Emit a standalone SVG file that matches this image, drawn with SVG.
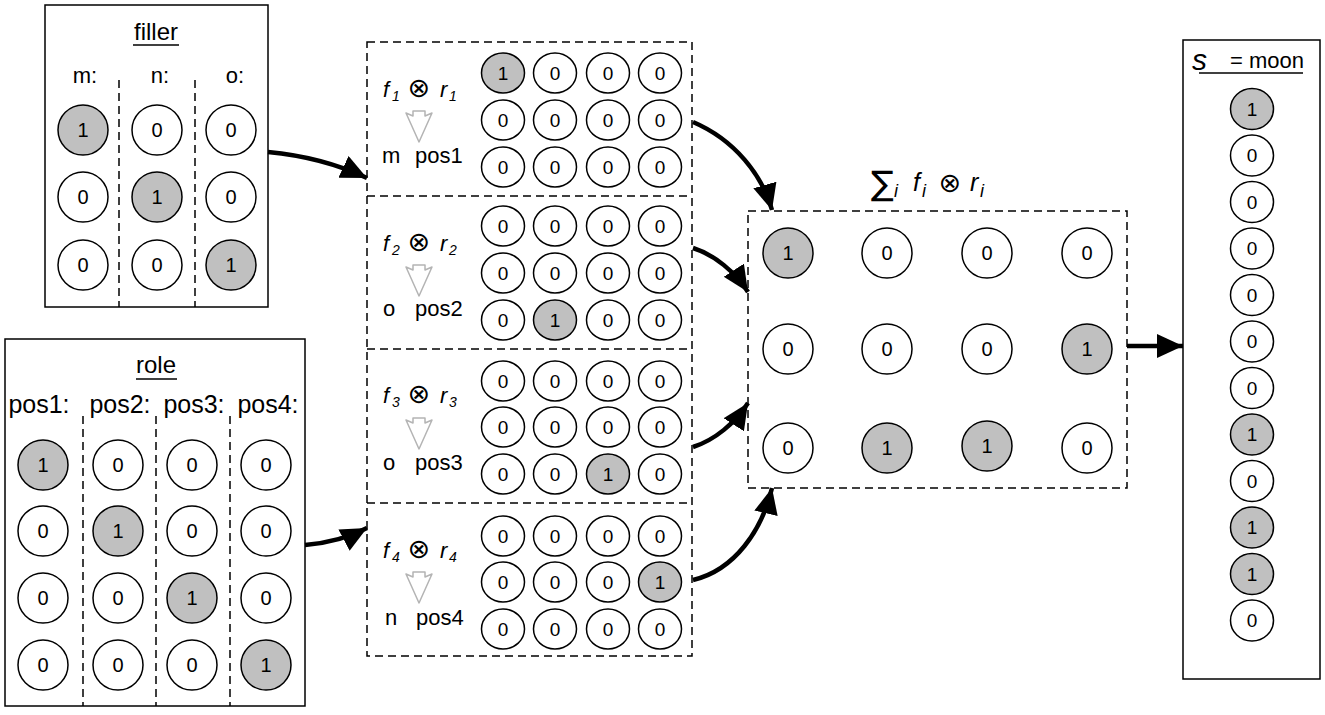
<svg xmlns="http://www.w3.org/2000/svg" width="1325" height="715" viewBox="0 0 1325 715">
<style>
text{font-family:"Liberation Sans",Arial,sans-serif;fill:#000}
.box{fill:#fff;stroke:#000;stroke-width:1.5}
.dbox{fill:#fff;stroke:#000;stroke-width:1.5;stroke-dasharray:8 5}
.dl{fill:none;stroke:#000;stroke-width:1.5;stroke-dasharray:8 5}
.c0{fill:#fff;stroke:#000;stroke-width:1.5}
.c1{fill:#c0c0c0;stroke:#000;stroke-width:1.5}
.n{font-size:20px;text-anchor:middle;dominant-baseline:central}
.ns{font-size:19px;text-anchor:middle;dominant-baseline:central}
.ttl{font-size:24px;text-anchor:middle}
.lab{font-size:22px;text-anchor:middle}
.plab{font-size:25px;text-anchor:middle}
.ul{stroke:#000;stroke-width:1.5}
.it{font-style:italic}
.fr{font-size:22px}
.ot{font-family:"DejaVu Sans",sans-serif;font-size:27px;text-anchor:middle}
.sig{font-family:"DejaVu Sans",sans-serif;font-size:34px}
.sub{font-size:14px;font-style:italic}
.ga{fill:#fff;stroke:#b4b4b4;stroke-width:1.5;stroke-linejoin:round}
.conn{fill:none;stroke:#000;stroke-width:4.5}
</style>
<defs>
<marker id="ah" markerUnits="userSpaceOnUse" markerWidth="30" markerHeight="26" refX="26" refY="12" orient="auto">
<path d="M0,0 L26,12 L0,24 Z" fill="#000"/>
</marker>
</defs>

<g id="filler">
<rect class="box" x="45" y="5" width="223" height="302"/>
<text class="ttl" x="156" y="40">filler</text>
<line class="ul" x1="133" y1="45" x2="179" y2="45"/>
<text class="lab" x="85" y="83">m:</text>
<text class="lab" x="160" y="83">n:</text>
<text class="lab" x="235" y="83">o:</text>
<line class="dl" x1="119" y1="80" x2="119" y2="307"/>
<line class="dl" x1="195" y1="80" x2="195" y2="307"/>
<circle class="c1" cx="83" cy="130" r="25"/><text class="n" x="83" y="130">1</text>
<circle class="c0" cx="157" cy="130" r="25"/><text class="n" x="157" y="130">0</text>
<circle class="c0" cx="231" cy="130" r="25"/><text class="n" x="231" y="130">0</text>
<circle class="c0" cx="83" cy="197" r="25"/><text class="n" x="83" y="197">0</text>
<circle class="c1" cx="157" cy="197" r="25"/><text class="n" x="157" y="197">1</text>
<circle class="c0" cx="231" cy="197" r="25"/><text class="n" x="231" y="197">0</text>
<circle class="c0" cx="83" cy="265" r="25"/><text class="n" x="83" y="265">0</text>
<circle class="c0" cx="157" cy="265" r="25"/><text class="n" x="157" y="265">0</text>
<circle class="c1" cx="231" cy="265" r="25"/><text class="n" x="231" y="265">1</text>
</g>

<g id="role">
<rect class="box" x="5" y="339" width="300" height="367"/>
<text class="ttl" x="156" y="373">role</text>
<line class="ul" x1="136" y1="379" x2="177" y2="379"/>
<text class="plab" x="39" y="413">pos1:</text>
<text class="plab" x="120" y="413">pos2:</text>
<text class="plab" x="194" y="413">pos3:</text>
<text class="plab" x="268" y="413">pos4:</text>
<line class="dl" x1="83" y1="416" x2="83" y2="706"/>
<line class="dl" x1="156" y1="416" x2="156" y2="706"/>
<line class="dl" x1="230" y1="416" x2="230" y2="706"/>
<circle class="c1" cx="43" cy="465" r="25"/><text class="n" x="43" y="465">1</text>
<circle class="c0" cx="118" cy="465" r="25"/><text class="n" x="118" y="465">0</text>
<circle class="c0" cx="192" cy="465" r="25"/><text class="n" x="192" y="465">0</text>
<circle class="c0" cx="266" cy="465" r="25"/><text class="n" x="266" y="465">0</text>
<circle class="c0" cx="43" cy="531" r="25"/><text class="n" x="43" y="531">0</text>
<circle class="c1" cx="118" cy="531" r="25"/><text class="n" x="118" y="531">1</text>
<circle class="c0" cx="192" cy="531" r="25"/><text class="n" x="192" y="531">0</text>
<circle class="c0" cx="266" cy="531" r="25"/><text class="n" x="266" y="531">0</text>
<circle class="c0" cx="43" cy="598" r="25"/><text class="n" x="43" y="598">0</text>
<circle class="c0" cx="118" cy="598" r="25"/><text class="n" x="118" y="598">0</text>
<circle class="c1" cx="192" cy="598" r="25"/><text class="n" x="192" y="598">1</text>
<circle class="c0" cx="266" cy="598" r="25"/><text class="n" x="266" y="598">0</text>
<circle class="c0" cx="43" cy="665" r="25"/><text class="n" x="43" y="665">0</text>
<circle class="c0" cx="118" cy="665" r="25"/><text class="n" x="118" y="665">0</text>
<circle class="c0" cx="192" cy="665" r="25"/><text class="n" x="192" y="665">0</text>
<circle class="c1" cx="266" cy="665" r="25"/><text class="n" x="266" y="665">1</text>
</g>

<g id="bindings">
<rect class="dbox" x="367" y="42" width="325" height="614"/>
<line class="dl" x1="367" y1="196" x2="692" y2="196"/>
<line class="dl" x1="367" y1="349" x2="692" y2="349"/>
<line class="dl" x1="367" y1="503" x2="692" y2="503"/>

<g id="binding1">
<text class="fr it" x="383" y="97">f</text><text class="sub" x="392" y="101">1</text>
<text class="ot" x="419" y="97">⊗</text>
<text class="fr it" x="440" y="97">r</text><text class="sub" x="449" y="101">1</text>
<polygon class="ga" points="413,111 425,111 425,116 432,113 419,142 406,113 413,116"/>
<text class="fr" x="382" y="163">m</text><text class="fr" x="415" y="163">pos1</text>
<ellipse class="c1" cx="503" cy="73" rx="21.5" ry="20"/><text class="ns" x="503" y="73">1</text>
<ellipse class="c0" cx="555" cy="73" rx="21.5" ry="20"/><text class="ns" x="555" y="73">0</text>
<ellipse class="c0" cx="608" cy="73" rx="21.5" ry="20"/><text class="ns" x="608" y="73">0</text>
<ellipse class="c0" cx="660" cy="73" rx="21.5" ry="20"/><text class="ns" x="660" y="73">0</text>
<ellipse class="c0" cx="503" cy="120" rx="21.5" ry="20"/><text class="ns" x="503" y="120">0</text>
<ellipse class="c0" cx="555" cy="120" rx="21.5" ry="20"/><text class="ns" x="555" y="120">0</text>
<ellipse class="c0" cx="608" cy="120" rx="21.5" ry="20"/><text class="ns" x="608" y="120">0</text>
<ellipse class="c0" cx="660" cy="120" rx="21.5" ry="20"/><text class="ns" x="660" y="120">0</text>
<ellipse class="c0" cx="503" cy="167" rx="21.5" ry="20"/><text class="ns" x="503" y="167">0</text>
<ellipse class="c0" cx="555" cy="167" rx="21.5" ry="20"/><text class="ns" x="555" y="167">0</text>
<ellipse class="c0" cx="608" cy="167" rx="21.5" ry="20"/><text class="ns" x="608" y="167">0</text>
<ellipse class="c0" cx="660" cy="167" rx="21.5" ry="20"/><text class="ns" x="660" y="167">0</text>
</g>

<g id="binding2">
<text class="fr it" x="383" y="251">f</text><text class="sub" x="392" y="255">2</text>
<text class="ot" x="419" y="251">⊗</text>
<text class="fr it" x="440" y="251">r</text><text class="sub" x="449" y="255">2</text>
<polygon class="ga" points="413,265 425,265 425,270 432,267 419,296 406,267 413,270"/>
<text class="fr" x="383" y="316">o</text><text class="fr" x="415" y="316">pos2</text>
<ellipse class="c0" cx="503" cy="226" rx="21.5" ry="20"/><text class="ns" x="503" y="226">0</text>
<ellipse class="c0" cx="555" cy="226" rx="21.5" ry="20"/><text class="ns" x="555" y="226">0</text>
<ellipse class="c0" cx="608" cy="226" rx="21.5" ry="20"/><text class="ns" x="608" y="226">0</text>
<ellipse class="c0" cx="660" cy="226" rx="21.5" ry="20"/><text class="ns" x="660" y="226">0</text>
<ellipse class="c0" cx="503" cy="273" rx="21.5" ry="20"/><text class="ns" x="503" y="273">0</text>
<ellipse class="c0" cx="555" cy="273" rx="21.5" ry="20"/><text class="ns" x="555" y="273">0</text>
<ellipse class="c0" cx="608" cy="273" rx="21.5" ry="20"/><text class="ns" x="608" y="273">0</text>
<ellipse class="c0" cx="660" cy="273" rx="21.5" ry="20"/><text class="ns" x="660" y="273">0</text>
<ellipse class="c0" cx="503" cy="320" rx="21.5" ry="20"/><text class="ns" x="503" y="320">0</text>
<ellipse class="c1" cx="555" cy="320" rx="21.5" ry="20"/><text class="ns" x="555" y="320">1</text>
<ellipse class="c0" cx="608" cy="320" rx="21.5" ry="20"/><text class="ns" x="608" y="320">0</text>
<ellipse class="c0" cx="660" cy="320" rx="21.5" ry="20"/><text class="ns" x="660" y="320">0</text>
</g>

<g id="binding3">
<text class="fr it" x="383" y="403">f</text><text class="sub" x="392" y="407">3</text>
<text class="ot" x="419" y="403">⊗</text>
<text class="fr it" x="440" y="403">r</text><text class="sub" x="449" y="407">3</text>
<polygon class="ga" points="413,418 425,418 425,423 432,420 419,449 406,420 413,423"/>
<text class="fr" x="383" y="470">o</text><text class="fr" x="415" y="470">pos3</text>
<ellipse class="c0" cx="503" cy="381" rx="21.5" ry="20"/><text class="ns" x="503" y="381">0</text>
<ellipse class="c0" cx="555" cy="381" rx="21.5" ry="20"/><text class="ns" x="555" y="381">0</text>
<ellipse class="c0" cx="608" cy="381" rx="21.5" ry="20"/><text class="ns" x="608" y="381">0</text>
<ellipse class="c0" cx="660" cy="381" rx="21.5" ry="20"/><text class="ns" x="660" y="381">0</text>
<ellipse class="c0" cx="503" cy="427" rx="21.5" ry="20"/><text class="ns" x="503" y="427">0</text>
<ellipse class="c0" cx="555" cy="427" rx="21.5" ry="20"/><text class="ns" x="555" y="427">0</text>
<ellipse class="c0" cx="608" cy="427" rx="21.5" ry="20"/><text class="ns" x="608" y="427">0</text>
<ellipse class="c0" cx="660" cy="427" rx="21.5" ry="20"/><text class="ns" x="660" y="427">0</text>
<ellipse class="c0" cx="503" cy="474" rx="21.5" ry="20"/><text class="ns" x="503" y="474">0</text>
<ellipse class="c0" cx="555" cy="474" rx="21.5" ry="20"/><text class="ns" x="555" y="474">0</text>
<ellipse class="c1" cx="608" cy="474" rx="21.5" ry="20"/><text class="ns" x="608" y="474">1</text>
<ellipse class="c0" cx="660" cy="474" rx="21.5" ry="20"/><text class="ns" x="660" y="474">0</text>
</g>

<g id="binding4">
<text class="fr it" x="383" y="558">f</text><text class="sub" x="392" y="562">4</text>
<text class="ot" x="419" y="558">⊗</text>
<text class="fr it" x="440" y="558">r</text><text class="sub" x="449" y="562">4</text>
<polygon class="ga" points="413,572 425,572 425,577 432,574 419,603 406,574 413,577"/>
<text class="fr" x="385" y="625">n</text><text class="fr" x="416" y="625">pos4</text>
<ellipse class="c0" cx="503" cy="536" rx="21.5" ry="20"/><text class="ns" x="503" y="536">0</text>
<ellipse class="c0" cx="555" cy="536" rx="21.5" ry="20"/><text class="ns" x="555" y="536">0</text>
<ellipse class="c0" cx="608" cy="536" rx="21.5" ry="20"/><text class="ns" x="608" y="536">0</text>
<ellipse class="c0" cx="660" cy="536" rx="21.5" ry="20"/><text class="ns" x="660" y="536">0</text>
<ellipse class="c0" cx="503" cy="582" rx="21.5" ry="20"/><text class="ns" x="503" y="582">0</text>
<ellipse class="c0" cx="555" cy="582" rx="21.5" ry="20"/><text class="ns" x="555" y="582">0</text>
<ellipse class="c0" cx="608" cy="582" rx="21.5" ry="20"/><text class="ns" x="608" y="582">0</text>
<ellipse class="c1" cx="660" cy="582" rx="21.5" ry="20"/><text class="ns" x="660" y="582">1</text>
<ellipse class="c0" cx="503" cy="629" rx="21.5" ry="20"/><text class="ns" x="503" y="629">0</text>
<ellipse class="c0" cx="555" cy="629" rx="21.5" ry="20"/><text class="ns" x="555" y="629">0</text>
<ellipse class="c0" cx="608" cy="629" rx="21.5" ry="20"/><text class="ns" x="608" y="629">0</text>
<ellipse class="c0" cx="660" cy="629" rx="21.5" ry="20"/><text class="ns" x="660" y="629">0</text>
</g>
</g>

<g id="sum">
<text class="sig" x="871" y="195">∑</text>
<text class="it" x="894" y="197" font-size="18">i</text>
<text class="it" x="913" y="191" font-size="25">f</text>
<text class="it" x="922" y="197" font-size="18">i</text>
<text class="ot" x="950" y="192">⊗</text>
<text class="it" x="970" y="191" font-size="25">r</text>
<text class="it" x="980" y="197" font-size="18">i</text>
<rect class="dbox" x="748" y="211" width="379" height="277"/>
<circle class="c1" cx="788" cy="253" r="25"/><text class="n" x="788" y="253">1</text>
<circle class="c0" cx="887" cy="253" r="25"/><text class="n" x="887" y="253">0</text>
<circle class="c0" cx="987" cy="253" r="25"/><text class="n" x="987" y="253">0</text>
<circle class="c0" cx="1087" cy="253" r="25"/><text class="n" x="1087" y="253">0</text>
<circle class="c0" cx="788" cy="349" r="25"/><text class="n" x="788" y="349">0</text>
<circle class="c0" cx="887" cy="349" r="25"/><text class="n" x="887" y="349">0</text>
<circle class="c0" cx="987" cy="349" r="25"/><text class="n" x="987" y="349">0</text>
<circle class="c1" cx="1087" cy="349" r="25"/><text class="n" x="1087" y="349">1</text>
<circle class="c0" cx="788" cy="448" r="25"/><text class="n" x="788" y="448">0</text>
<circle class="c1" cx="887" cy="448" r="25"/><text class="n" x="887" y="448">1</text>
<circle class="c1" cx="987" cy="446" r="25"/><text class="n" x="987" y="446">1</text>
<circle class="c0" cx="1087" cy="448" r="25"/><text class="n" x="1087" y="448">0</text>
</g>

<g id="sentence">
<rect class="box" x="1183" y="40" width="137" height="639"/>
<text class="it" x="1192" y="70" font-size="30">s</text>
<text x="1230" y="68" font-size="22">= moon</text>
<line class="ul" x1="1199" y1="73" x2="1303" y2="73"/>
<ellipse class="c1" cx="1252" cy="109" rx="21.5" ry="20.5"/><text class="ns" x="1252" y="109">1</text>
<ellipse class="c0" cx="1252" cy="155.5" rx="21.5" ry="20.5"/><text class="ns" x="1252" y="155.5">0</text>
<ellipse class="c0" cx="1252" cy="202" rx="21.5" ry="20.5"/><text class="ns" x="1252" y="202">0</text>
<ellipse class="c0" cx="1252" cy="248.5" rx="21.5" ry="20.5"/><text class="ns" x="1252" y="248.5">0</text>
<ellipse class="c0" cx="1252" cy="295" rx="21.5" ry="20.5"/><text class="ns" x="1252" y="295">0</text>
<ellipse class="c0" cx="1252" cy="341.5" rx="21.5" ry="20.5"/><text class="ns" x="1252" y="341.5">0</text>
<ellipse class="c0" cx="1252" cy="388" rx="21.5" ry="20.5"/><text class="ns" x="1252" y="388">0</text>
<ellipse class="c1" cx="1252" cy="434.5" rx="21.5" ry="20.5"/><text class="ns" x="1252" y="434.5">1</text>
<ellipse class="c0" cx="1252" cy="481" rx="21.5" ry="20.5"/><text class="ns" x="1252" y="481">0</text>
<ellipse class="c1" cx="1252" cy="527.5" rx="21.5" ry="20.5"/><text class="ns" x="1252" y="527.5">1</text>
<ellipse class="c1" cx="1252" cy="574" rx="21.5" ry="20.5"/><text class="ns" x="1252" y="574">1</text>
<ellipse class="c0" cx="1252" cy="620.5" rx="21.5" ry="20.5"/><text class="ns" x="1252" y="620.5">0</text>
</g>

<g id="connectors">
<path class="conn" marker-end="url(#ah)" d="M268,152 C300,155 335,163 367,178"/>
<path class="conn" marker-end="url(#ah)" d="M305,545 C328,543 350,537 367,528"/>
<path class="conn" marker-end="url(#ah)" d="M693,122 C735,140 762,175 772,210"/>
<path class="conn" marker-end="url(#ah)" d="M693,248 C715,255 735,272 748,292"/>
<path class="conn" marker-end="url(#ah)" d="M693,447 C715,440 735,423 748,403"/>
<path class="conn" marker-end="url(#ah)" d="M693,580 C735,570 762,530 772,488"/>
<path class="conn" marker-end="url(#ah)" d="M1127,346 L1183,346"/>
</g>
</svg>
